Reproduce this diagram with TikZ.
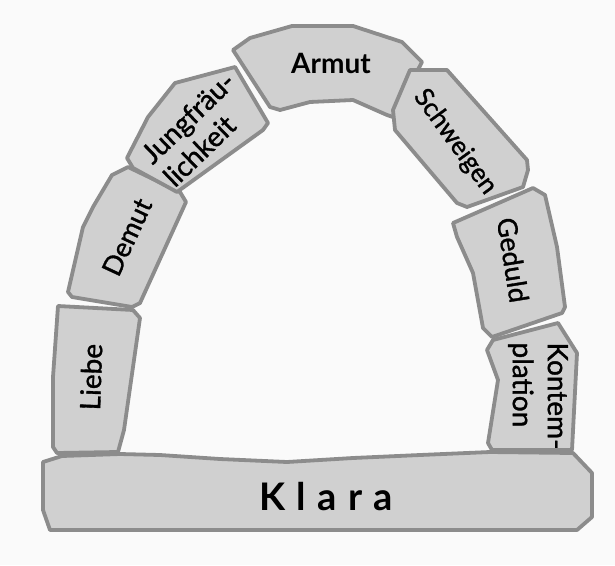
\documentclass[tikz,border=0pt]{standalone}
\usepackage{fontspec}
\setmainfont{Lato}
\newfontfamily\stonefont{Lato}[FakeBold=1.2]
\definecolor{paper}{HTML}{FAFAFA}
\definecolor{stonefill}{HTML}{D0D0D0}
\definecolor{stoneline}{HTML}{8C8C8C}

\begin{document}
\begin{tikzpicture}[
    x=1pt, y=-1pt,
    stone/.style={draw=stoneline, line width=3.8pt, fill=stonefill, line join=round},
    word/.style={align=left, inner sep=0pt},
]

% --- Background: fixes the page to the reference size ---
\fill[paper] (0,0) rectangle (615,565);
\useasboundingbox (0,0) rectangle (615,565);

% --- Left pier of the arch ---
\draw[stone] (58,306) -- (133,310) -- (140,318) -- (124,430) -- (118,452)
  -- (57,453) -- (53,447) -- (53,377) -- cycle;
\draw[stone] (112,175) -- (128,167) -- (180,192) -- (186,202) -- (140,303)
  -- (132,307) -- (72,297) -- (68,292) -- (83,227) -- (93,207) -- cycle;
\draw[stone] (148,117) -- (175,83) -- (235,67) -- (268,123) -- (263,130)
  -- (177,192) -- (133,168) -- (127,158) -- cycle;

% --- Keystone ---
\draw[stone] (233,50) -- (250,38) -- (292,26) -- (353,26) -- (402,42)
  -- (422,62) -- (393,117) -- (387,115) -- (353,100) -- (310,102)
  -- (280,110) -- (270,107) -- cycle;

% --- Right pier of the arch ---
\draw[stone] (410,70) -- (447,70) -- (527,160) -- (528,170) -- (523,187)
  -- (467,207) -- (457,203) -- (395,130) -- (393,110) -- cycle;
\draw[stone] (457,237) -- (453,223) -- (533,188) -- (545,195) -- (557,247)
  -- (565,307) -- (562,313) -- (492,337) -- (483,328) -- (473,273) -- cycle;
\draw[stone] (487,350) -- (493,340) -- (558,323) -- (577,353) -- (572,450)
  -- (492,450) -- (488,443) -- (498,380) -- cycle;

% --- Foundation ---
\draw[stone] (43,462) -- (62,456) -- (120,454) -- (160,455) -- (220,459)
  -- (287,462) -- (353,458) -- (420,455) -- (490,452) -- (573,453)
  -- (592,473) -- (592,517) -- (577,530) -- (50,530) -- (43,510) -- cycle;

% --- Labels ---
\node[word, rotate=88, font=\stonefont\fontsize{28}{28}\selectfont]
  (liebe) at (91,377) {Liebe};
\node[word, rotate=65, font=\stonefont\fontsize{27}{27}\selectfont]
  (demut) at (127,237) {Demut};
\node[word, rotate=44, font=\stonefont\fontsize{28}{32}\selectfont]
  (jungfrau) at (199,129) {Jungfräu-\\lichkeit};
\node[word, font=\fontsize{28}{28}\selectfont\bfseries]
  (armut) at (331,63) {Armut};
\node[word, rotate=-54, font=\stonefont\fontsize{26}{26}\selectfont]
  (schweigen) at (455,142) {Schweigen};
\node[word, rotate=-81, font=\stonefont\fontsize{27}{27}\selectfont]
  (geduld) at (513,260) {Geduld};
\node[word, rotate=-90, font=\stonefont\fontsize{28}{35}\selectfont]
  (kontemplation) at (538,396) {Kontem-\\plation};
\node[inner sep=0pt, font=\fontsize{38}{38}\selectfont\bfseries]
  (klara) at (326,497) {K\hspace{0.3em}l\hspace{0.3em}a\hspace{0.3em}r\hspace{0.3em}a};

\end{tikzpicture}
\end{document}
